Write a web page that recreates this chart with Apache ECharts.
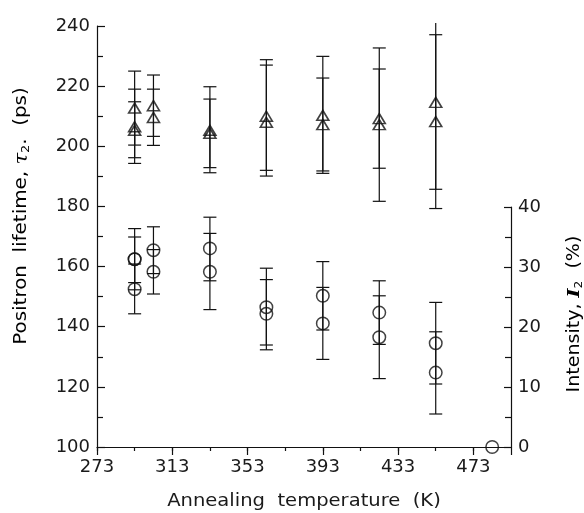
<!DOCTYPE html>
<html><head><meta charset="utf-8">
<script src="https://cdn.jsdelivr.net/npm/echarts@6/dist/echarts.min.js"></script>
<style>html,body{margin:0;padding:0;background:#fff}#c{width:584px;height:513px}</style>
</head><body><div id="c"></div>
<script>
// Positron lifetime tau2 (ps) -- triangles, left axis
const lifetimeTemps = [293, 293, 293, 303, 303, 333, 333, 363, 363, 393, 393, 423, 423, 453, 453];
const lifetimeValues = [212.7, 206.5, 205.3, 213.5, 209.6, 205.3, 204.3, 210.0, 208.0, 210.3, 207.2, 209.2, 207.2, 214.6, 208.2];
const lifetimeLow = [200.4, 194.3, 196.2, 203.3, 200.3, 191.2, 192.9, 190.1, 192.0, 191.0, 191.8, 192.7, 181.7, 185.7, 179.3];
const lifetimeHigh = [225.0, 219.0, 214.8, 223.7, 219.0, 219.8, 215.7, 228.8, 227.0, 229.9, 222.7, 225.7, 232.7, 243.5, 237.1];

// Intensity I2 (%) -- circles, right axis
const intensityTemps = [293, 293, 293, 303, 303, 333, 333, 363, 363, 393, 393, 423, 423, 453, 453, 483];
const intensityValues = [31.3, 26.3, 31.3, 32.8, 29.2, 33.1, 29.2, 23.3, 22.2, 25.2, 20.6, 22.4, 18.3, 17.3, 12.4, 0];
const intensityLow = [27.4, 22.2, 26.2, 28.9, 25.5, 27.7, 22.9, 17.0, 16.2, 19.5, 14.6, 17.1, 11.4, 10.5, 5.5, null];
const intensityHigh = [35.0, 30.5, 36.4, 36.7, 32.9, 38.3, 35.6, 29.8, 27.9, 30.9, 26.6, 27.7, 25.2, 24.1, 19.2, null];

const xTickLabels = [273, 313, 353, 393, 433, 473];
const xRange = [273, 493];
const lifetimeRange = [100, 240];
const intensityRange = [0, 40];

const FONT = 'DejaVu Sans';
const INK = '#111';
const TXT = '#1a1a1a';
const chart = echarts.init(document.getElementById('c'), null, {renderer: 'canvas'});

function errRender(yMax) {
  return function (params, api) {
    const x = api.value(0), lo = api.value(1), hi = api.value(2);
    const top = Math.min(hi, yMax);
    const p1 = api.coord([x, lo]);
    const p2 = api.coord([x, top]);
    if (hi > yMax) p2[1] -= 3;
    const w = 6.5;
    const st = {stroke: INK, lineWidth: 1.2};
    const ch = [
      {type: 'line', shape: {x1: p1[0], y1: p1[1], x2: p2[0], y2: p2[1]}, style: st},
      {type: 'line', shape: {x1: p1[0] - w, y1: p1[1], x2: p1[0] + w, y2: p1[1]}, style: st}
    ];
    if (hi <= yMax) ch.push({type: 'line', shape: {x1: p2[0] - w, y1: p2[1], x2: p2[0] + w, y2: p2[1]}, style: st});
    return {type: 'group', children: ch};
  };
}

const lifetimeErr = lifetimeTemps.map((t, i) => [t, lifetimeLow[i], lifetimeHigh[i]]);
const intensityErr = intensityTemps.map((t, i) => [t, intensityLow[i], intensityHigh[i]]).filter(d => d[1] != null);
const lifetimePts = lifetimeTemps.map((t, i) => [t, lifetimeValues[i]]);
const intensityPts = intensityTemps.map((t, i) => [t, intensityValues[i]]);

const labelStyle = {fontFamily: FONT, fontSize: 18, color: TXT};

const option = {
  animation: false,
  backgroundColor: '#fff',
  grid: [
    {left: 97, right: 73, top: 26, bottom: 66},
    {left: 97, right: 73, top: 207, bottom: 66}
  ],
  xAxis: [
    {gridIndex: 0, type: 'value', min: xRange[0], max: xRange[1], interval: 20,
      axisLine: {show: true, lineStyle: {color: INK, width: 1.2}},
      axisTick: {show: true, inside: false, length: 4, lineStyle: {color: INK, width: 1.2}},
      axisLabel: Object.assign({margin: 11, showMaxLabel: false,
        formatter: v => (xTickLabels.indexOf(Math.round(v)) >= 0 ? String(Math.round(v)) : '')}, labelStyle),
      splitLine: {show: false}},
    {gridIndex: 1, type: 'value', min: xRange[0], max: xRange[1], interval: 40,
      axisLine: {show: false},
      axisTick: {show: true, inside: false, length: 8, lineStyle: {color: INK, width: 1.2}},
      axisLabel: {show: false}, splitLine: {show: false}}
  ],
  yAxis: [
    {gridIndex: 0, type: 'value', min: lifetimeRange[0], max: lifetimeRange[1], interval: 20,
      axisLine: {show: true, lineStyle: {color: INK, width: 1.2}},
      axisTick: {show: true, inside: true, length: 8, lineStyle: {color: INK, width: 1.2}},
      minorTick: {show: true, splitNumber: 2, length: 6, lineStyle: {color: INK, width: 1.2}},
      axisLabel: Object.assign({margin: 7}, labelStyle),
      splitLine: {show: false}, minorSplitLine: {show: false}},
    {gridIndex: 1, type: 'value', position: 'right', min: intensityRange[0], max: intensityRange[1], interval: 10,
      axisLine: {show: true, lineStyle: {color: INK, width: 1.2}},
      axisTick: {show: true, inside: true, length: 7, lineStyle: {color: INK, width: 1.2}},
      minorTick: {show: true, splitNumber: 2, length: 6, lineStyle: {color: INK, width: 1.2}},
      axisLabel: Object.assign({margin: 7}, labelStyle),
      splitLine: {show: false}, minorSplitLine: {show: false}}
  ],
  series: [
    {type: 'custom', xAxisIndex: 0, yAxisIndex: 0, renderItem: errRender(lifetimeRange[1]), data: lifetimeErr, clip: false, z: 2},
    {type: 'scatter', xAxisIndex: 0, yAxisIndex: 0, data: lifetimePts, symbol: 'triangle', symbolSize: [12, 10],
      itemStyle: {color: 'rgba(0,0,0,0)', borderColor: INK, borderWidth: 1.6}, clip: false, z: 3},
    {type: 'custom', xAxisIndex: 1, yAxisIndex: 1, renderItem: errRender(intensityRange[1]), data: intensityErr, clip: false, z: 2},
    {type: 'scatter', xAxisIndex: 1, yAxisIndex: 1, data: intensityPts, symbol: 'circle', symbolSize: 12.5,
      itemStyle: {color: 'rgba(0,0,0,0)', borderColor: INK, borderWidth: 1.5}, clip: false, z: 3}
  ],
  graphic: [
    {type: 'text', x: 304, y: 502, scaleX: 1.15,
      style: {text: 'Annealing  temperature  (K)', fontFamily: FONT, fontSize: 17, fill: TXT, align: 'center', verticalAlign: 'middle'}},
    {type: 'text', x: 22, y: 216, rotation: Math.PI / 2, scaleX: 1.17,
      style: {text: '{a|Positron  lifetime, }{t|τ}{s|2}{a|.  (ps)}', align: 'center', verticalAlign: 'middle',
        rich: {a: {fontFamily: FONT, fontSize: 17, color: TXT},
               t: {fontFamily: 'DejaVu Serif', fontStyle: 'italic', fontSize: 18, color: TXT},
               s: {fontFamily: FONT, fontSize: 11, color: TXT, verticalAlign: 'bottom', padding: [8, 0, 0, 0]}}}},
    {type: 'text', x: 575, y: 314, rotation: Math.PI / 2, scaleX: 1.12,
      style: {text: '{a|Intensity, }{t|I}{s|2}{a|  (%)}', align: 'center', verticalAlign: 'middle',
        rich: {a: {fontFamily: FONT, fontSize: 17, color: TXT},
               t: {fontFamily: 'DejaVu Serif', fontStyle: 'italic', fontWeight: 'bold', fontSize: 17, color: TXT},
               s: {fontFamily: FONT, fontSize: 11, color: TXT, verticalAlign: 'bottom', padding: [8, 0, 0, 0]}}}}
  ]
};
chart.setOption(option);
</script>
</body></html>
